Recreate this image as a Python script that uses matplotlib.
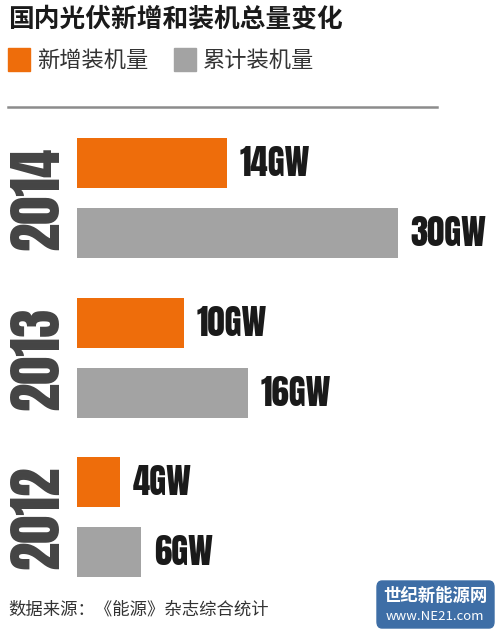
import matplotlib.pyplot as plt
from matplotlib.patches import FancyBboxPatch, Rectangle

plt.rcParams['font.family'] = ['Noto Sans CJK SC', 'DejaVu Sans']

# data
years = ['2014', '2013', '2012']
new_gw = [14, 10, 4]
total_gw = [30, 16, 6]
labels = ['新增装机量', '累计装机量']
title = '国内光伏新增和装机总量变化'
source = '数据来源：《能源》杂志综合统计'

orange = '#ee6d0b'
gray = '#a3a3a3'
num_font = ['Anton', 'Oswald', 'DejaVu Sans']
W, H = 500, 635

fig = plt.figure(figsize=(W / 100, H / 100), dpi=100)
fig.patch.set_facecolor('white')

# bar axes: x in GW, y in pixels from top
ax = fig.add_axes([77 / W, 0, (398 - 77) / W, 1])
ax.set_xlim(0, 30)
ax.set_ylim(H, 0)
ax.axis('off')

group_top = [138, 298, 457]
bar_h = 50
for i, yr in enumerate(years):
    y_new = group_top[i] + bar_h / 2
    y_tot = y_new + 70
    ax.barh(y_new, new_gw[i], height=bar_h, color=orange, left=0)
    ax.barh(y_tot, total_gw[i], height=bar_h, color=gray, left=0)
    for y, v in [(y_new, new_gw[i]), (y_tot, total_gw[i])]:
        ax.annotate(f'{v}GW', (v, y), xytext=(9, 0), textcoords='offset points',
                    ha='left', va='center', fontsize=25,
                    family=num_font, color='#1a1a1a',
                    annotation_clip=False)
    fig.text(37 / W, 1 - (y_new + y_tot) / 2 / H, yr, rotation=90,
             ha='center', va='center', fontsize=41,
             family=num_font, color='#444444')

# title
fig.text(8 / W, 1 - 19 / H, title, ha='left', va='center', fontsize=18.5,
         fontweight='heavy', color='#1a1a1a')

# legend
for x0, lab, c in [(8, labels[0], orange), (174, labels[1], gray)]:
    fig.patches.append(Rectangle((x0 / W, 1 - 71 / H), 22 / W, 23 / H,
                                 transform=fig.transFigure, color=c))
    fig.text((x0 + 29) / W, 1 - 60 / H, lab, ha='left', va='center',
             fontsize=16, color='#333333')

# separator line
fig.add_artist(plt.Line2D([8 / W, 437 / W], [1 - 107 / H] * 2,
                          color='#8c8c8c', lw=1.8))

# source
fig.text(8 / W, 1 - 610 / H, source, ha='left', va='center', fontsize=12.5,
         color='#333333')

# watermark badge
fig.patches.append(FancyBboxPatch((377 / W, 1 - 628 / H), 117 / W, 47 / H,
                                  boxstyle='round,pad=0,rounding_size=0.01',
                                  transform=fig.transFigure,
                                  color='#3e6ea6'))
fig.text(435 / W, 1 - 596 / H, '世纪新能源网', ha='center', va='center',
         fontsize=12.5, fontweight='bold', color='white')
fig.text(435 / W, 1 - 617 / H, 'www.NE21.com', ha='center', va='center',
         fontsize=9.5, color='white')

fig.savefig('out.png', dpi=100)
